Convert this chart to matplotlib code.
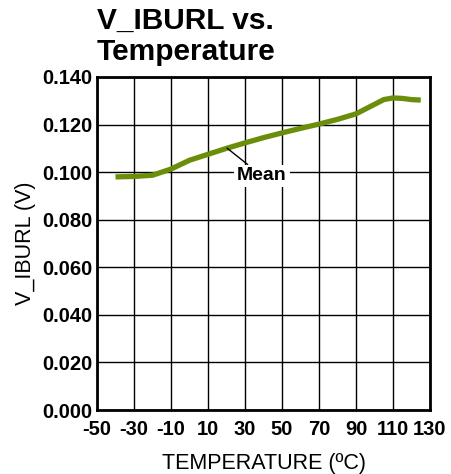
import matplotlib
matplotlib.use("Agg")
import matplotlib.pyplot as plt

plt.rcParams['font.family'] = ['Liberation Sans', 'DejaVu Sans']

temps = [-40, -30, -20, -10, 0, 10, 20, 30, 40, 50, 60, 70, 80, 90, 100, 105, 110, 115, 120, 125]
mean_v = [0.0980, 0.0982, 0.0987, 0.1013, 0.1050, 0.1075, 0.1100, 0.1123, 0.1145, 0.1165,
          0.1184, 0.1202, 0.1222, 0.1245, 0.1285, 0.1305, 0.1312, 0.1310, 0.1305, 0.1303]
xticks = [-50, -30, -10, 10, 30, 50, 70, 90, 110, 130]
yticks = [0.000, 0.020, 0.040, 0.060, 0.080, 0.100, 0.120, 0.140]

W, H = 451, 474
fig = plt.figure(figsize=(W / 100, H / 100), dpi=100)
ax = fig.add_axes([97 / W, 1 - 410 / H, (430 - 97) / W, (410 - 77) / H])

ax.plot(temps, mean_v, color='#6B8E0A', lw=3.8, solid_capstyle='butt', zorder=3)
ax.set_xlim(-50, 130)
ax.set_ylim(0, 0.140)
ax.set_xticks(xticks)
ax.set_yticks(yticks)
ax.set_xticklabels([str(t) for t in xticks], fontsize=14.5, fontweight='bold')
ax.set_yticklabels([f"{v:.3f}" for v in yticks], fontsize=14.5, fontweight='bold')
ax.tick_params(axis='x', length=0, pad=7.5)
ax.tick_params(axis='y', length=0, pad=3)
ax.grid(True, color='black', lw=1.0)
for s in ax.spines.values():
    s.set_linewidth(2)
    s.set_color('black')

ax.set_xlabel('TEMPERATURE (ºC)', fontsize=15.5, labelpad=10)
ax.set_ylabel('V_IBURL (V)', fontsize=15.5, labelpad=5)

ax.annotate('Mean', xy=(20.3, 0.1101), xytext=(39.2, 0.0984),
            fontsize=14, fontweight='bold', ha='center', va='center',
            bbox=dict(boxstyle='square,pad=0.15', fc='white', ec='none'),
            arrowprops=dict(arrowstyle='-', color='black', lw=1, shrinkA=0, shrinkB=0),
            zorder=4)

fig.text(97 / W, 1 - 7 / H, 'V_IBURL vs.\nTemperature', fontsize=21.5, fontweight='bold',
         ha='left', va='top', linespacing=1.12)

fig.savefig('out.png', dpi=100)
